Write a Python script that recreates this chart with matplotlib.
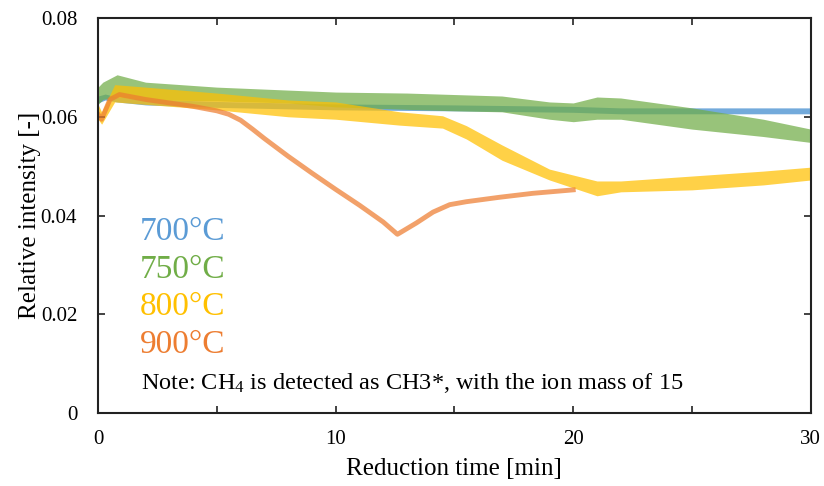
import numpy as np
import matplotlib
matplotlib.use("Agg")
import matplotlib.pyplot as plt
from matplotlib.ticker import MultipleLocator

plt.rcParams["font.family"] = ["Liberation Serif", "DejaVu Serif"]
plt.rcParams["mathtext.fontset"] = "custom"
plt.rcParams["mathtext.rm"] = "Liberation Serif"
plt.rcParams["mathtext.it"] = "Liberation Serif:italic"

# 700 C (blue), narrow band
t_700 = [0, 0.3, 0.8, 2, 5, 10, 15, 20, 22, 25, 28, 30]
lo_700 = [0.0628, 0.0634, 0.0630, 0.0624, 0.0619, 0.0614, 0.0612, 0.0609, 0.0606, 0.0606, 0.0606, 0.0606]
hi_700 = [0.0642, 0.0646, 0.0640, 0.0636, 0.0631, 0.0626, 0.0624, 0.0621, 0.0618, 0.0618, 0.0618, 0.0618]

# 750 C (green)
t_750 = [0, 0.2, 0.8, 2, 5, 8, 10, 13, 15, 17, 19, 20, 21, 22, 25, 28, 30]
lo_750 = [0.0625, 0.0635, 0.0640, 0.0635, 0.0632, 0.0628, 0.0620, 0.0615, 0.0612, 0.0610,
          0.0595, 0.0590, 0.0595, 0.0595, 0.0575, 0.0560, 0.0548]
hi_750 = [0.0660, 0.0670, 0.0685, 0.0670, 0.0660, 0.0654, 0.0650, 0.0648, 0.0645, 0.0642,
          0.0630, 0.0628, 0.0640, 0.0638, 0.0618, 0.0595, 0.0575]

# 800 C (yellow)
t_800 = [0, 0.15, 0.7, 2, 5, 8, 10, 12.7, 14.5, 15.5, 17, 19, 21, 22, 25, 28, 30]
lo_800 = [0.0595, 0.0585, 0.0630, 0.0625, 0.0614, 0.0600, 0.0595, 0.0583, 0.0577, 0.0555,
          0.0512, 0.0472, 0.0440, 0.0448, 0.0452, 0.0462, 0.0472]
hi_800 = [0.0625, 0.0610, 0.0665, 0.0660, 0.0648, 0.0634, 0.0630, 0.0610, 0.0602, 0.0582,
          0.0543, 0.0494, 0.0470, 0.0470, 0.0480, 0.0490, 0.0498]

# 900 C (orange), centre line
t_900 = [0, 0.15, 0.5, 0.9, 2, 3, 4, 5, 5.5, 6, 6.5, 7, 8, 9, 10, 11, 12, 12.6,
         13.4, 14.1, 14.8, 15.5, 16.9, 18.3, 20]
v_900 = [0.0605, 0.0595, 0.0635, 0.0645, 0.0635, 0.0628, 0.0621, 0.0612, 0.0605, 0.0593,
         0.0575, 0.0556, 0.0520, 0.0486, 0.0453, 0.0421, 0.0387, 0.0362, 0.0385, 0.0407,
         0.0422, 0.0428, 0.0437, 0.0445, 0.0452]

labels = ["700°C", "750°C", "800°C", "900°C"]
colors = ["#5B9BD5", "#70AD47", "#FFC000", "#ED7D31"]

fig = plt.figure(figsize=(8.24, 4.86), dpi=100)
ax = fig.add_axes([0.119, 0.150, 0.865, 0.813])

ax.fill_between(t_700, lo_700, hi_700, color=colors[0], alpha=0.85, lw=0)
ax.fill_between(t_750, lo_750, hi_750, color=colors[1], alpha=0.72, lw=0)
ax.fill_between(t_800, lo_800, hi_800, color=colors[2], alpha=0.72, lw=0)
ax.plot(t_900, v_900, color=colors[3], alpha=0.72, lw=3.5, solid_joinstyle="round")

ax.set_xlim(0, 30)
ax.set_ylim(0, 0.08)
ax.xaxis.set_major_locator(MultipleLocator(10))
ax.xaxis.set_minor_locator(MultipleLocator(5))
ax.yaxis.set_major_locator(MultipleLocator(0.02))
ax.yaxis.set_major_formatter(plt.FuncFormatter(lambda v, p: "0" if v == 0 else f"{v:.2f}"))
ax.tick_params(which="both", direction="in", top=True, right=True, length=5,
               width=1.2, labelsize=15, color="#222222")
ax.tick_params(axis="x", pad=12)
ax.tick_params(axis="y", pad=15)
for s in ax.spines.values():
    s.set_linewidth(1.5)
    s.set_color("#222222")

ax.set_xlabel("Reduction time [min]", fontsize=18, labelpad=7)
ax.set_ylabel("Relative intensity [-]", fontsize=18, labelpad=0)

for i, (lab, c) in enumerate(zip(labels, colors)):
    ax.text(1.75, 0.0367 - i * 0.0076, lab, color=c, fontsize=24, va="center", ha="left")

ax.text(1.8, 0.0061, r"Note: CH$_4$ is detected as CH3*, with the ion mass of 15",
        fontsize=17.5, va="center", ha="left")

fig.savefig("out.png", dpi=100)
